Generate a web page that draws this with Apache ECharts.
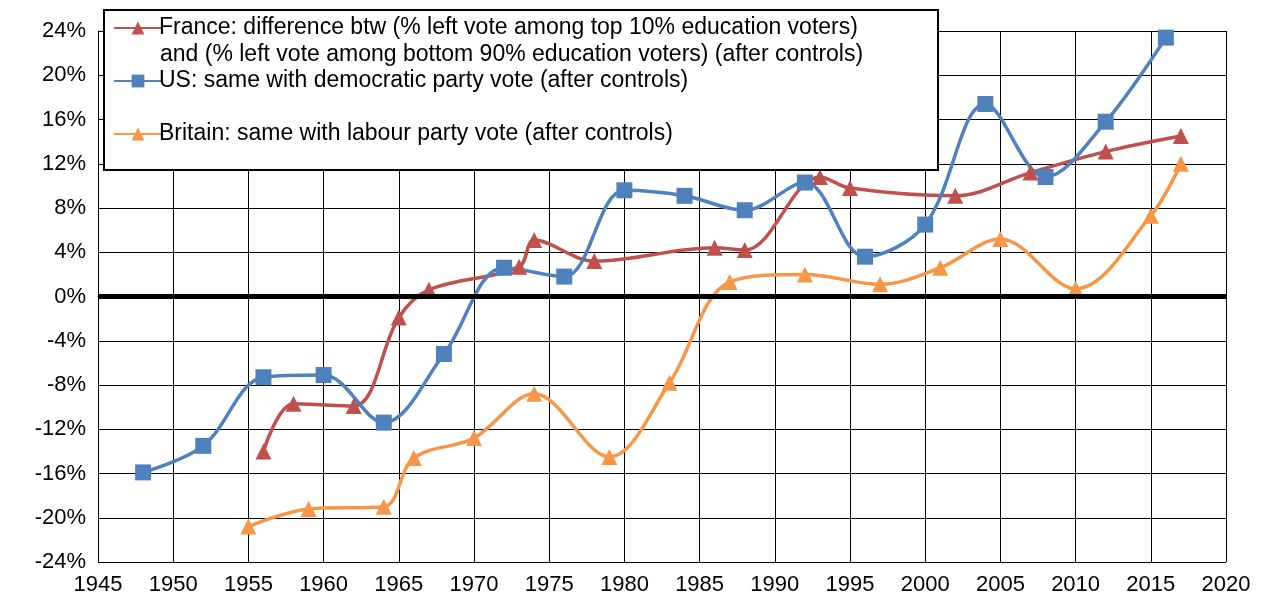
<!DOCTYPE html>
<html><head><meta charset="utf-8">
<script src="https://cdn.jsdelivr.net/npm/echarts@6/dist/echarts.min.js"></script>
<style>html,body{margin:0;padding:0;background:#fff}#c{width:1263px;height:613px}</style>
</head><body><div id="c"></div>
<script>
const usYears=[1948,1952,1956,1960,1964,1968,1972,1976,1980,1984,1988,1992,1996,2000,2004,2008,2012,2016];
const usVals=[-15.9,-13.5,-7.3,-7.1,-11.4,-5.2,2.6,1.8,9.6,9.1,7.8,10.3,3.6,6.5,17.4,10.8,15.8,23.4];
const frYears=[1956,1958,1962,1965,1967,1973,1974,1978,1986,1988,1993,1995,2002,2007,2012,2017];
const frVals=[-14.0,-9.7,-9.9,-1.9,0.6,2.7,5.1,3.2,4.4,4.2,10.8,9.8,9.1,11.2,13.1,14.5];
const brYears=[1955,1959,1964,1966,1970,1974,1979,1983,1987,1992,1997,2001,2005,2010,2015,2017];
const brVals=[-20.8,-19.2,-19.0,-14.6,-12.8,-8.8,-14.5,-7.8,1.3,2.0,1.1,2.6,5.2,0.7,7.3,12.0];
const frLine1='France: difference btw (% left vote among top 10% education voters)';
const frLine2='and (% left vote among bottom 90% education voters) (after controls)';
const frName=frLine1;
const usName='US: same with democratic party vote (after controls)';
const brName='Britain: same with labour party vote (after controls)';
const zip=(a,b)=>a.map((x,i)=>[x,b[i]]);
const font='Liberation Sans, Arial, sans-serif';
const ch=echarts.init(document.getElementById('c'));
const lg=(name,top)=>({data:[name],left:108,top:top,orient:'vertical',itemWidth:48,itemHeight:16,itemGap:0,z:10,
  textStyle:{fontFamily:font,fontSize:23,color:'#000',lineHeight:26,padding:[0,0,0,-8]},selectedMode:false});
function ser(name,data,color,sym){return {name,type:'line',data,smooth:0.35,symbol:sym,symbolSize:16,
  lineStyle:{color,width:3.5},itemStyle:{color},z:3};}
ch.setOption({
  animation:false,
  grid:{left:98,right:37,top:31,bottom:51},
  xAxis:{type:'value',min:1945,max:2020,interval:5,
    axisLine:{show:true,lineStyle:{color:'#000'}},axisTick:{show:false},
    axisLabel:{fontFamily:font,fontSize:22,color:'#000',margin:12,formatter:v=>String(v)},
    splitLine:{show:true,lineStyle:{color:'#000',width:1}}},
  yAxis:{type:'value',min:-24,max:24,interval:4,
    axisLine:{show:true,lineStyle:{color:'#000'}},axisTick:{show:false},
    axisLabel:{fontFamily:font,fontSize:22,color:'#000',formatter:v=>v+'%',margin:12},
    splitLine:{show:true,lineStyle:{color:'#000',width:1}}},
  graphic:[
    {type:'rect',shape:{x:104,y:10,width:834,height:160},style:{fill:'#fff',stroke:'#000',lineWidth:2},z:5},
    {type:'text',left:160,top:43,z:11,style:{text:frLine2,font:'23px Liberation Sans, Arial, sans-serif',fill:'#000'}}
  ],
  legend:[lg(frName,10),lg(usName,63),lg(brName,116)],
  series:[
    ser(frName,zip(frYears,frVals),'#C0504D','triangle'),
    ser(usName,zip(usYears,usVals),'#4F81BD','rect'),
    ser(brName,zip(brYears,brVals),'#F79646','triangle'),
    {type:'line',data:[],markLine:{silent:true,symbol:'none',label:{show:false},lineStyle:{color:'#000',width:5,type:'solid'},data:[{yAxis:0}]}}
  ]
});
</script></body></html>
